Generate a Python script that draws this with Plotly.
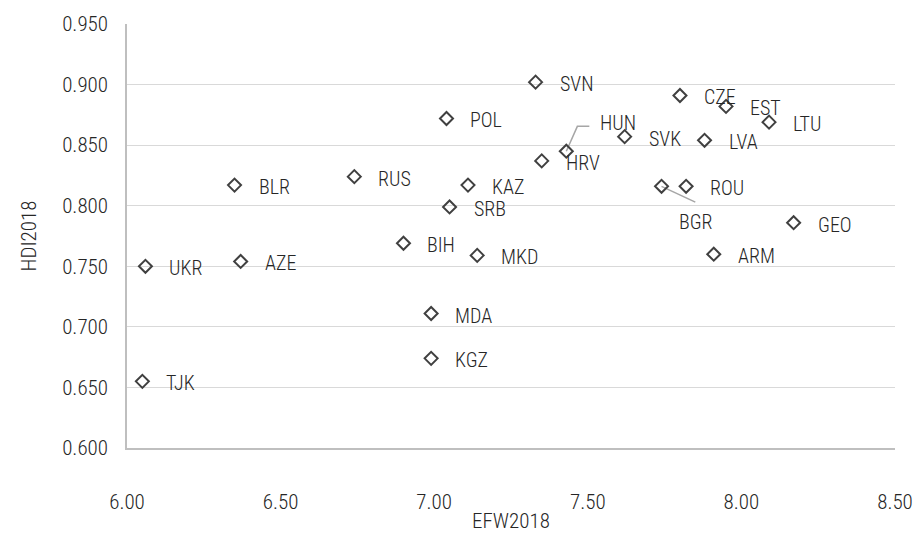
import plotly.graph_objects as go

countries = ["SVN", "CZE", "EST", "LTU", "POL", "SVK", "HUN", "LVA", "HRV", "BLR",
             "RUS", "KAZ", "ROU", "BGR", "SRB", "GEO", "BIH", "ARM", "MKD", "UKR",
             "AZE", "MDA", "KGZ", "TJK"]
efw2018 = [7.33, 7.80, 7.95, 8.09, 7.04, 7.62, 7.43, 7.88, 7.35, 6.35,
           6.74, 7.11, 7.82, 7.74, 7.05, 8.17, 6.90, 7.91, 7.14, 6.06,
           6.37, 6.99, 6.99, 6.05]
hdi2018 = [0.902, 0.891, 0.882, 0.869, 0.872, 0.857, 0.845, 0.854, 0.837, 0.817,
           0.824, 0.817, 0.816, 0.816, 0.799, 0.786, 0.769, 0.760, 0.759, 0.750,
           0.754, 0.711, 0.674, 0.655]

x_ticks = [6.0, 6.5, 7.0, 7.5, 8.0, 8.5]
y_ticks = [0.600, 0.650, 0.700, 0.750, 0.800, 0.850, 0.900, 0.950]

FONT = "Roboto Condensed, Roboto, sans-serif"
TXT = "#262626"
GRAY = "#a6a6a6"
W = 300

fig = go.Figure()

# leader lines (HUN bent, BGR straight) anchored to data points
i_hun = countries.index("HUN")
hx, hy = efw2018[i_hun], hdi2018[i_hun]
fig.add_trace(go.Scatter(
    x=[hx, hx + 0.036, hx + 0.075], y=[hy, hy + 0.0205, hy + 0.0205],
    mode="lines", line=dict(color=GRAY, width=1.5), hoverinfo="skip", showlegend=False))
i_bgr = countries.index("BGR")
bx, by = efw2018[i_bgr], hdi2018[i_bgr]
fig.add_trace(go.Scatter(
    x=[bx, bx + 0.11], y=[by, by - 0.013],
    mode="lines", line=dict(color=GRAY, width=1.5), hoverinfo="skip", showlegend=False))

fig.add_trace(go.Scatter(
    x=efw2018, y=hdi2018, mode="markers", text=countries,
    marker=dict(symbol="diamond-open", size=10, color="#404040", line=dict(width=2, color="#404040")),
    showlegend=False))

lab_font = dict(family=FONT, size=20, color=TXT, weight=W)
for c, xv, yv in zip(countries, efw2018, hdi2018):
    if c == "HUN":
        fig.add_annotation(x=xv, y=yv, text=c, showarrow=False, xanchor="left", yanchor="middle",
                           xshift=32, yshift=28, font=lab_font)
    elif c == "BGR":
        fig.add_annotation(x=xv, y=yv, text=c, showarrow=False, xanchor="center", yanchor="middle",
                           xshift=34, yshift=-36, font=lab_font)
    else:
        fig.add_annotation(x=xv, y=yv, text=c, showarrow=False, xanchor="left", yanchor="middle",
                           xshift=22, yshift=-2, font=lab_font)

fig.update_layout(
    width=916, height=533,
    margin=dict(l=127, r=21, t=24, b=85),
    plot_bgcolor="white", paper_bgcolor="white",
    font=dict(family=FONT, size=21, color=TXT, weight=W),
    xaxis=dict(range=[6.0, 8.5], tickvals=x_ticks, ticktext=[f"{v:.2f}" for v in x_ticks],
               automargin=False,
               showgrid=False, zeroline=False, showline=True, linecolor="#bfbfbf", linewidth=1.5,
               ticks="", ticklabelstandoff=34,
               title=dict(text="EFW2018", standoff=0, font=dict(family=FONT, size=21, color=TXT, weight=W)),
               tickfont=dict(family=FONT, size=21, color=TXT, weight=W)),
    yaxis=dict(range=[0.600, 0.950], tickvals=y_ticks, ticktext=[f"{v:.3f}" for v in y_ticks],
               automargin=False,
               showgrid=True, gridcolor="#d9d9d9", gridwidth=1, zeroline=False,
               showline=True, linecolor="#bfbfbf", linewidth=1.5, ticks="",
               ticklabelstandoff=13,
               title=dict(text="HDI2018", standoff=20, font=dict(family=FONT, size=21, color=TXT, weight=W)),
               tickfont=dict(family=FONT, size=21, color=TXT, weight=W)),
)

post = ("var s=document.createElement('style');"
        "s.innerHTML='.main-svg text{font-stretch:condensed !important;}';"
        "document.head.appendChild(s);")
fig.write_html("out.html", post_script=post)
